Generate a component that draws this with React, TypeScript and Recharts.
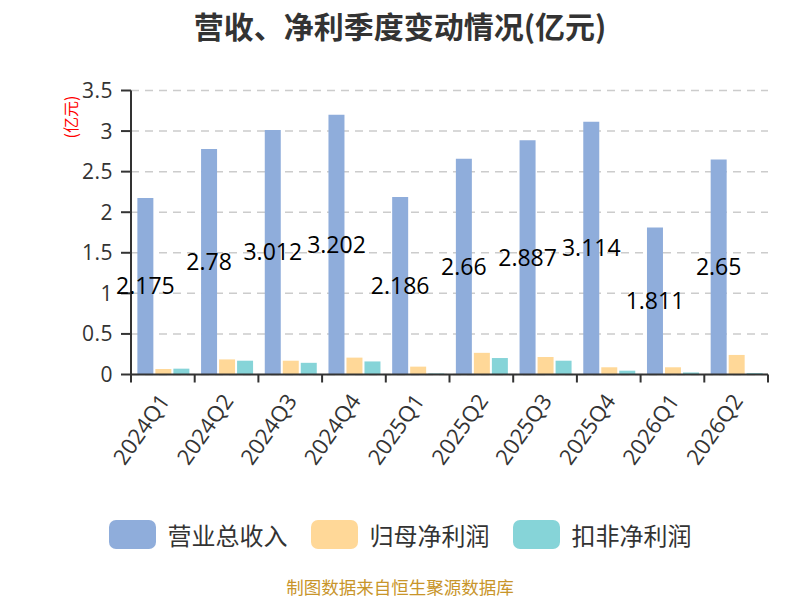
import React from 'react';
import { BarChart, Bar, XAxis, YAxis, CartesianGrid, LabelList } from 'recharts';

const quarters = ['2024Q1', '2024Q2', '2024Q3', '2024Q4', '2025Q1', '2025Q2', '2025Q3', '2025Q4', '2026Q1', '2026Q2'];
const revenue = [2.175, 2.78, 3.012, 3.202, 2.186, 2.66, 2.887, 3.114, 1.811, 2.65];
const netProfit = [0.068, 0.186, 0.17, 0.208, 0.097, 0.267, 0.216, 0.089, 0.089, 0.241];
const deductedProfit = [0.072, 0.17, 0.144, 0.161, 0.013, 0.203, 0.17, 0.047, 0.025, 0.017];
const yTicks = [0, 0.5, 1, 1.5, 2, 2.5, 3, 3.5];

const seriesNames = ['营业总收入', '归母净利润', '扣非净利润'];
const colors = ['#8FADDB', '#FFD898', '#86D4D8'];

const FONT = '"Open Sans", "Noto Sans CJK SC", sans-serif';
const CJK = '"Noto Sans CJK SC", sans-serif';
const W = 800;
const H = 600;
const LEFT = 131;
const RIGHT = 32;
const BAND = (W - LEFT - RIGHT) / quarters.length;

const data = quarters.map((q, i) => ({
  name: q,
  revenue: revenue[i],
  netProfit: netProfit[i],
  deductedProfit: deductedProfit[i],
}));

const XTick = (props: any) => {
  const { x, y, payload, index } = props;
  const left = x - BAND / 2;
  const tx = x + 3;
  const ty = y + 15;
  return (
    <g>
      <line x1={left} y1={y - 8} x2={left} y2={y} stroke="#333" strokeWidth={2} />
      {index === quarters.length - 1 && (
        <line x1={x + BAND / 2} y1={y - 8} x2={x + BAND / 2} y2={y} stroke="#333" strokeWidth={2} />
      )}
      <text
        x={tx}
        y={ty}
        textAnchor="end"
        dominantBaseline="middle"
        transform={`rotate(-55, ${tx}, ${ty})`}
        fontSize={22}
        fill="#333"
        fontFamily={FONT}
      >
        {payload.value}
      </text>
    </g>
  );
};

export default function App() {
  return (
    <div style={{ position: 'absolute', left: 0, top: 0, width: W, height: H, background: '#fff', fontFamily: CJK }}>
      <div
        style={{
          position: 'absolute',
          top: 3,
          left: 0,
          width: W,
          textAlign: 'center',
          fontSize: 30,
          fontWeight: 'bold',
          color: '#333',
        }}
      >
        营收、净利季度变动情况(亿元)
      </div>
      <div
        style={{
          position: 'absolute',
          left: 70,
          top: 117,
          transform: 'translate(-50%, -50%) rotate(-90deg)',
          color: 'red',
          fontSize: 16,
          whiteSpace: 'nowrap',
        }}
      >
        (亿元)
      </div>
      <BarChart
        width={W}
        height={H}
        data={data}
        margin={{ top: 90.5, right: RIGHT, left: 0, bottom: 0 }}
        barCategoryGap="10%"
        barGap={2}
      >
        <CartesianGrid vertical={false} stroke="#ccc" strokeDasharray="8 6" strokeWidth={1.5} />
        <XAxis
          dataKey="name"
          height={225.5}
          interval={0}
          tickLine={false}
          axisLine={{ stroke: '#333', strokeWidth: 2 }}
          tick={<XTick />}
        />
        <YAxis
          width={LEFT}
          domain={[0, 3.5]}
          ticks={yTicks}
          interval={0}
          axisLine={{ stroke: '#333', strokeWidth: 2 }}
          tickLine={{ stroke: '#333', strokeWidth: 2 }}
          tickSize={10}
          tickMargin={8}
          tick={{ fontSize: 21, fill: '#333', fontFamily: FONT, letterSpacing: 0.5 }}
        />
        <Bar dataKey="revenue" fill={colors[0]} isAnimationActive={false}>
          <LabelList dataKey="revenue" position="center" fontSize={23} fill="#000" fontFamily={FONT} />
        </Bar>
        <Bar dataKey="netProfit" fill={colors[1]} isAnimationActive={false} />
        <Bar dataKey="deductedProfit" fill={colors[2]} isAnimationActive={false} />
      </BarChart>
      <div
        style={{
          position: 'absolute',
          top: 520,
          left: 0,
          width: W,
          display: 'flex',
          justifyContent: 'center',
          alignItems: 'center',
          gap: 23,
        }}
      >
        {seriesNames.map((n, i) => (
          <div key={n} style={{ display: 'flex', alignItems: 'center' }}>
            <div style={{ width: 47, height: 29, borderRadius: 7, background: colors[i], marginRight: 12 }} />
            <span style={{ fontSize: 24, color: '#333', lineHeight: 1 }}>{n}</span>
          </div>
        ))}
      </div>
      <div
        style={{
          position: 'absolute',
          top: 578,
          left: 0,
          width: W,
          textAlign: 'center',
          fontSize: 17.5,
          lineHeight: 1,
          color: '#C8952A',
        }}
      >
        制图数据来自恒生聚源数据库
      </div>
    </div>
  );
}
